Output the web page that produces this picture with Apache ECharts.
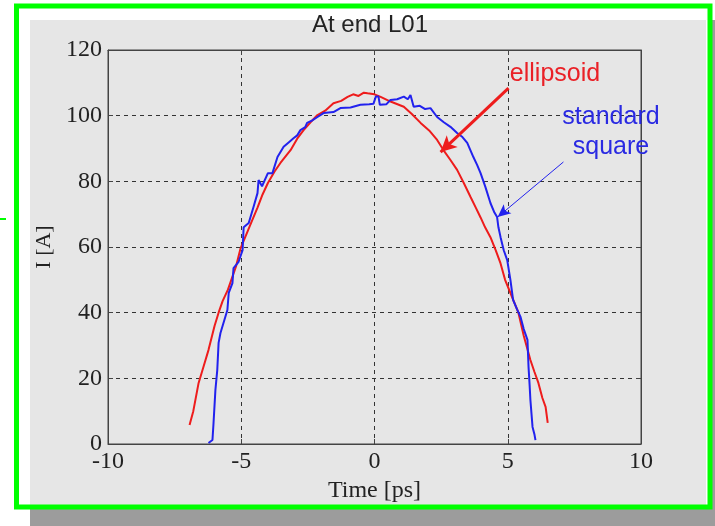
<!DOCTYPE html>
<html><head><meta charset="utf-8">
<script src="https://cdn.jsdelivr.net/npm/echarts@6/dist/echarts.min.js"></script>
<style>html,body{margin:0;padding:0;background:#fff}#c{width:715px;height:526px}</style>
</head><body><div id="c"></div>
<script>
var titleText = 'At end L01';
var xName = 'Time [ps]';
var yName = 'I [A]';
var xTicks = [-10, -5, 0, 5, 10];
var yTicks = [0, 20, 40, 60, 80, 100, 120];

var ellipsoidT = [-6.94,-6.8,-6.6,-6.4,-6.23,-6.0,-5.85,-5.7,-5.5,-5.2,-5.03,-4.7,-4.39,-4.2,-4.0,-3.75,-3.53,-3.3,-3.15,-2.9,-2.66,-2.4,-2.14,-1.85,-1.54,-1.25,-1.01,-0.8,-0.6,-0.4,-0.26,0.0,0.23,0.6,1.1,1.4,1.73,2.05,2.35,2.58,2.85,3.1,3.35,3.6,3.8,3.98,4.15,4.35,4.55,4.73,4.9,5.15,5.4,5.6,5.85,6.0,6.15,6.3,6.42,6.5];
var ellipsoidI = [5.8,10,18.6,24,28.6,36,40,43.5,47,54,59.5,66,72,76,79.5,83,85.6,88,89.5,93,95.6,98,100.2,101.5,103.8,104.5,105.7,106.5,106,107,106.8,106.5,105.7,104.3,102.7,100.5,97.8,95.5,92.6,89.6,86.5,83.5,79.5,75.3,72,69,66,63,59,55,50,45,40,33,25.6,22,18.6,14,11.3,6.4];

var squareT = [-6.23,-6.08,-6.04,-5.97,-5.9,-5.85,-5.78,-5.67,-5.52,-5.47,-5.33,-5.29,-5.1,-4.95,-4.91,-4.72,-4.54,-4.39,-4.35,-4.22,-4.16,-4.0,-3.83,-3.64,-3.41,-3.2,-3.04,-2.9,-2.78,-2.6,-2.53,-2.35,-2.14,-1.91,-1.54,-1.28,-0.9,-0.53,-0.2,-0.04,0.05,0.15,0.2,0.45,0.6,0.85,1.1,1.25,1.35,1.47,1.7,1.9,2.1,2.35,2.6,2.85,3.1,3.3,3.48,3.71,3.85,3.98,4.16,4.35,4.5,4.6,4.65,4.73,4.85,4.98,5.1,5.2,5.35,5.48,5.6,5.74,5.78,5.82,5.85,5.93,6.0,6.04];
var squareI = [0.3,1.2,6.4,16.4,22.5,30.8,33.8,36.8,40.8,46,49,53.6,55.5,59,66,67.3,72.2,76.4,80.4,78.5,78.3,82.5,82.5,87.4,90.5,92,93.1,94,95.6,96.5,97.8,98.5,99.6,100.8,101.1,102.3,102.5,103.3,103.5,103.6,105.8,105.8,103.3,103.5,104.8,105,105.8,105,106.3,102.7,103,102,102.3,99.6,98,96.6,94.7,93.5,91.7,87.4,85,82.5,78.3,73.4,70.5,69.1,66,63,59,56,50,43.9,41,38.7,35,31.7,23.5,18,13.4,5.2,3,1.2];

function pairs(a, b) { return a.map(function (v, i) { return [v, b[i]]; }); }

var chart = echarts.init(document.getElementById('c'), null, {renderer: 'canvas'});
var serif = '"Liberation Serif", "DejaVu Serif", serif';
var sans = '"Liberation Sans", Arial, sans-serif';
var lineCol = '#444';
chart.setOption({
  animation: false,
  backgroundColor: '#ffffff',
  title: {
    text: titleText, left: 370, top: 13, padding: 0, textAlign: 'center',
    textStyle: {fontFamily: sans, fontSize: 24, fontWeight: 'normal', color: '#222'}
  },
  graphic: [
    {type: 'rect', z: -20, shape: {x: 30, y: 20, width: 690, height: 510}, style: {fill: '#9c9c9c'}},
    {type: 'rect', z: -19, shape: {x: 16, y: 6, width: 694, height: 501}, style: {fill: '#ffffff'}},
    {type: 'rect', z: -18, shape: {x: 30, y: 20, width: 676, height: 485}, style: {fill: '#e6e6e6'}},
    {type: 'rect', z: -17, shape: {x: 16.5, y: 6, width: 693.5, height: 501}, style: {fill: 'none', stroke: '#00ff00', lineWidth: 5}},
    {type: 'rect', z: -17, shape: {x: 0, y: 218, width: 6, height: 2}, style: {fill: '#00ff00'}},
    {type: 'text', z: 10, style: {text: 'ellipsoid', x: 555, y: 74, textAlign: 'center', textVerticalAlign: 'middle', font: '25px ' + sans, fill: '#ea2026'}},
    {type: 'text', z: 10, style: {text: 'standard', x: 611, y: 117, textAlign: 'center', textVerticalAlign: 'middle', font: '25px ' + sans, fill: '#2a2ae2'}},
    {type: 'text', z: 10, style: {text: 'square', x: 611, y: 147, textAlign: 'center', textVerticalAlign: 'middle', font: '25px ' + sans, fill: '#2a2ae2'}}
  ],
  grid: {left: 108, right: 74, top: 50, bottom: 82, show: true, borderColor: lineCol, borderWidth: 1, backgroundColor: 'transparent'},
  xAxis: [{
    type: 'value', min: xTicks[0], max: xTicks[xTicks.length - 1], interval: 5, position: 'bottom',
    name: xName, nameLocation: 'middle', nameGap: 33,
    nameTextStyle: {fontFamily: serif, fontSize: 24, color: '#222'},
    axisLine: {onZero: false, lineStyle: {color: lineCol}},
    axisTick: {inside: true, length: 5, lineStyle: {color: lineCol}},
    axisLabel: {fontFamily: serif, fontSize: 24, color: '#222', margin: 6},
    splitLine: {show: true, lineStyle: {color: '#333', type: [4, 4], width: 1}}
  }, {
    type: 'value', min: xTicks[0], max: xTicks[xTicks.length - 1], interval: 5, position: 'top',
    axisLine: {show: true, onZero: false, lineStyle: {color: lineCol}},
    axisTick: {inside: true, length: 5, lineStyle: {color: lineCol}},
    axisLabel: {show: false}, splitLine: {show: false}
  }],
  yAxis: [{
    type: 'value', min: yTicks[0], max: yTicks[yTicks.length - 1], interval: 20, position: 'left',
    name: yName, nameLocation: 'middle', nameGap: 49, nameRotate: 90,
    nameTextStyle: {fontFamily: serif, fontSize: 22, color: '#222'},
    axisLine: {show: true, onZero: false, lineStyle: {color: lineCol}},
    axisTick: {show: true, inside: true, length: 5, lineStyle: {color: lineCol}},
    axisLabel: {fontFamily: serif, fontSize: 24, color: '#222', margin: 6},
    splitLine: {show: true, lineStyle: {color: '#333', type: [4, 4], width: 1}}
  }, {
    type: 'value', min: yTicks[0], max: yTicks[yTicks.length - 1], interval: 20, position: 'right',
    axisLine: {show: true, onZero: false, lineStyle: {color: lineCol}},
    axisTick: {show: true, inside: true, length: 5, lineStyle: {color: lineCol}},
    axisLabel: {show: false}, splitLine: {show: false}
  }],
  series: [{
    name: 'ellipsoid', type: 'line', data: pairs(ellipsoidT, ellipsoidI),
    showSymbol: false, lineStyle: {color: '#ee1c1c', width: 2}, z: 3,
    markLine: {
      silent: true, symbol: ['none', 'arrow'], symbolSize: [12, 16],
      label: {show: false},
      lineStyle: {color: '#ee1c1c', width: 3, type: 'solid'},
      data: [[{coord: [5.03, 108.4]}, {coord: [2.48, 88.9]}]]
    }
  }, {
    name: 'standard square', type: 'line', data: pairs(squareT, squareI),
    showSymbol: false, lineStyle: {color: '#2222ee', width: 2}, z: 4,
    markLine: {
      silent: true, symbol: ['none', 'arrow'], symbolSize: [9, 13],
      label: {show: false},
      lineStyle: {color: '#2222ee', width: 1, type: 'solid'},
      data: [[{coord: [7.09, 85.9]}, {coord: [4.62, 69.1]}]]
    }
  }]
});
</script></body></html>
